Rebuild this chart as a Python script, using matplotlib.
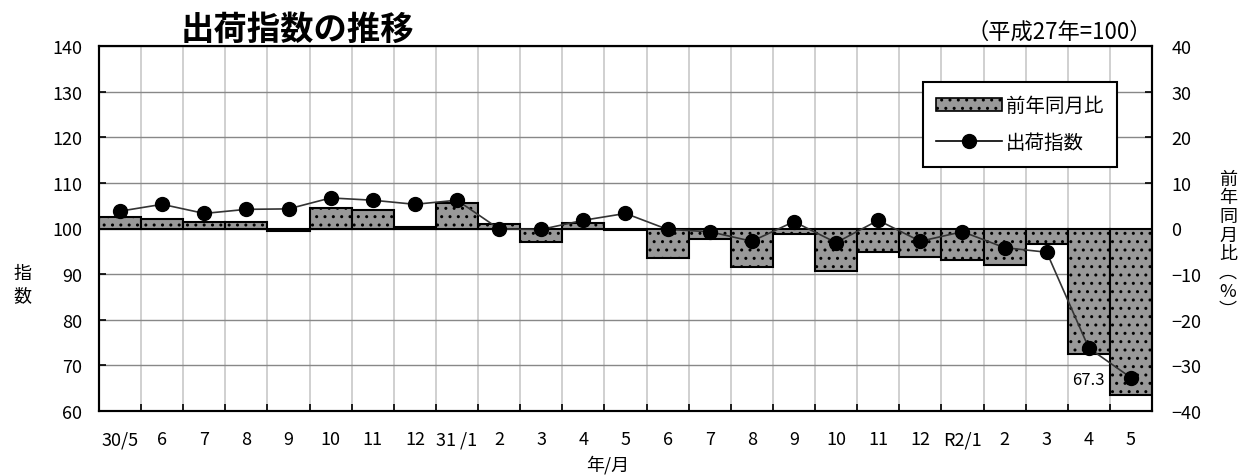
import numpy as np
import matplotlib
matplotlib.use('Agg')
import matplotlib.pyplot as plt
from matplotlib.patches import Patch
from matplotlib.lines import Line2D
from matplotlib.ticker import FixedLocator, MultipleLocator

plt.rcParams['font.family'] = ['Noto Sans CJK JP', 'DejaVu Sans']
plt.rcParams['hatch.linewidth'] = 1.0

# months (平成30年5月 ~ 令和2年5月)
months = ['30/5', '6', '7', '8', '9', '10', '11', '12', '31 /1', '2', '3', '4', '5',
          '6', '7', '8', '9', '10', '11', '12', 'R2/1', '2', '3', '4', '5']
# 出荷指数 (left axis)
shipment_index = [103.8, 105.3, 103.3, 104.2, 104.3, 106.7, 106.2, 105.3, 106.2, 99.9,
                  99.8, 101.8, 103.3, 99.8, 99.3, 97.2, 101.5, 96.9, 101.8, 97.2,
                  99.3, 95.8, 94.8, 73.8, 67.3]
# 前年同月比 % (right axis)
yoy_change = [2.6, 2.0, 1.5, 1.5, -0.5, 4.5, 4.0, 0.3, 5.5, 1.0,
              -2.9, 1.1, -0.3, -6.4, -2.3, -8.4, -1.2, -9.3, -5.2, -6.3,
              -6.9, -7.9, -3.3, -27.6, -36.4]

x = np.arange(len(months))

fig = plt.figure(figsize=(12.42, 4.77), dpi=100, facecolor='white')
ax = fig.add_axes([99 / 1242, 1 - 412 / 477, (1152 - 99) / 1242, (412 - 47) / 477])
ax2 = ax.twinx()

# bars + grid live on the back axis, line on the front axis
ax.set_zorder(ax2.get_zorder() + 1)
ax.patch.set_visible(False)
ax2.patch.set_visible(True)
ax2.patch.set_facecolor('white')

ax2.bar(x, yoy_change, width=1.0, color='#999999', edgecolor='black',
        linewidth=1.5, hatch='..', zorder=3)
ax2.set_ylim(-40, 40)
ax2.yaxis.set_major_locator(MultipleLocator(10))
ax2.yaxis.grid(True, color='#888888', linewidth=1.0, zorder=0)
ax2.xaxis.set_visible(True)
ax2.xaxis.set_minor_locator(FixedLocator(x[:-1] + 0.5))
ax2.xaxis.grid(True, which='minor', color='#c8c8c8', linewidth=1.2, zorder=0)
ax2.tick_params(axis='x', which='both', bottom=False, top=False,
                labelbottom=False, labeltop=False)
ax2.set_axisbelow(True)
ax2.tick_params(axis='y', direction='in', length=5, width=1.2, labelsize=13, pad=14)

ax.plot(x, shipment_index, color='#333333', linewidth=1.2, marker='o',
        markersize=10, markerfacecolor='black', markeredgecolor='black', zorder=4)
ax.set_ylim(60, 140)
ax.set_xlim(-0.5, len(months) - 0.5)
ax.yaxis.set_major_locator(MultipleLocator(10))
ax.set_xticks(x)
ax.set_xticklabels(months)
ax.xaxis.set_minor_locator(FixedLocator(x[:-1] + 0.5))
ax.tick_params(axis='x', which='major', length=0, labelsize=13, pad=14)
ax.tick_params(axis='x', which='minor', direction='in', length=5, width=1.2)
ax.tick_params(axis='y', direction='in', length=5, width=1.2, labelsize=13, pad=12)

for a in (ax, ax2):
    for s in a.spines.values():
        s.set_linewidth(1.5)
        s.set_color('black')

ax.annotate('67.3', xy=(x[-1], shipment_index[-1]), xytext=(x[-2], shipment_index[-1] - 0.4),
            textcoords='data', ha='center', va='center', fontsize=12)

handles = [Patch(facecolor='#999999', edgecolor='black', hatch='..', linewidth=1.2),
           Line2D([0], [0], color='black', linewidth=1.2, marker='o', markersize=10)]
leg = ax.legend(handles, ['前年同月比', '出荷指数'], loc='upper right',
                bbox_to_anchor=(1127 / 1242, 1 - 73 / 477), bbox_transform=fig.transFigure,
                fontsize=14, frameon=True, fancybox=False, framealpha=1,
                edgecolor='black', handlelength=3.4, borderpad=0.7, labelspacing=0.8,
                handletextpad=0.2)
leg.get_frame().set_linewidth(1.5)

fig.text(297 / 1242, 1 - 30 / 477, '出荷指数の推移', fontsize=24, fontweight='bold',
         ha='center', va='center')
fig.text(1152 / 1242, 1 - 32 / 477, '（平成27年=100）', fontsize=16,
         ha='right', va='center')
fig.text(608 / 1242, 1 - 465 / 477, '年/月', fontsize=13, ha='center', va='center')
fig.text(22 / 1242, 1 - 285 / 477, '指\n数', fontsize=13, ha='center', va='center',
         linespacing=1.3)
fig.text(1228 / 1242, 1 - 245 / 477, '前\n年\n同\n月\n比\n︵\n%\n︶', fontsize=13,
         ha='center', va='center', linespacing=1.05)

fig.savefig('out.png', dpi=100, facecolor='white')
